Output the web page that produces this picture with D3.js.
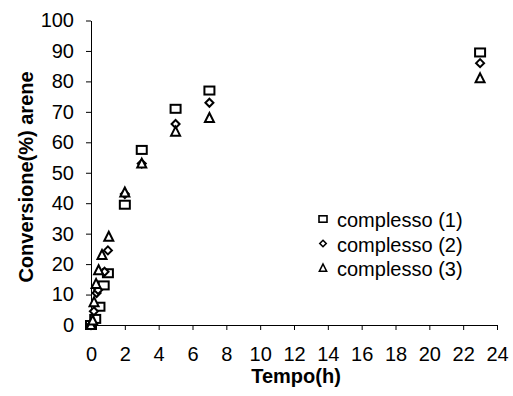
<!DOCTYPE html>
<html>
<head>
<meta charset="utf-8">
<script src="https://cdn.jsdelivr.net/npm/d3@7"></script>
<style>
  body { margin: 0; background: #fff; }
  text { font-family: "Liberation Sans", Arial, sans-serif; }
</style>
</head>
<body>
<svg id="chart" width="513" height="396"></svg>
<script>
// data
var series = ["complesso (1)", "complesso (2)", "complesso (3)"]
var shapes = ["square", "diamond", "triangle"]

var time1 = [0, 0.25, 0.5, 0.75, 1, 2, 3, 5, 7, 23]
var conv1 = [0, 2, 6, 13, 17, 39.5, 57.5, 71, 77, 89.5]

var time2 = [0, 0.17, 0.33, 0.42, 0.8, 1, 2, 3, 5, 7, 23]
var conv2 = [0, 4.5, 10.5, 11.5, 17.5, 24.5, 43, 53, 66, 73, 86]

var time3 = [0, 0.1, 0.18, 0.3, 0.45, 0.65, 1.05, 2, 3, 5, 7, 23]
var conv3 = [0, 1.5, 7.5, 13.5, 18, 23, 29, 43.5, 53, 63.5, 68, 81]

var xTicks = d3.range(0, 25, 2)
var yTicks = d3.range(0, 101, 10)

var svg = d3.select("#chart")

var dimensions = {
    left: 91,
    right: 497,
    top: 20.5,
    bottom: 325
}
var fontSize = 20

var x = d3.scaleLinear().domain([0, 24]).range([dimensions.left, dimensions.right])
var y = d3.scaleLinear().domain([0, 100]).range([dimensions.bottom, dimensions.top])

//axes
svg.append("g")
   .attr("transform", `translate(0,${dimensions.bottom})`)
   .call(d3.axisBottom(x).tickValues(xTicks).tickSize(5).tickSizeOuter(0).tickPadding(17))
svg.append("g")
   .attr("transform", `translate(${dimensions.left},0)`)
   .call(d3.axisLeft(y).tickValues(yTicks).tickSize(5).tickSizeOuter(0).tickPadding(12))

svg.selectAll(".domain").attr("stroke", "#000").attr("stroke-width", 1)
svg.selectAll(".tick line").attr("stroke", "#000")
svg.selectAll(".tick text")
   .attr("font-size", fontSize)
   .attr("font-family", "Liberation Sans, Arial, sans-serif")
   .attr("fill", "#000")

//axis titles
svg.append("text")
   .attr("x", 296)
   .attr("y", 383)
   .attr("text-anchor", "middle")
   .attr("font-size", fontSize)
   .attr("font-weight", "bold")
   .text("Tempo(h)")

svg.append("text")
   .attr("transform", "translate(33,177) rotate(-90)")
   .attr("text-anchor", "middle")
   .attr("font-size", fontSize)
   .attr("font-weight", "bold")
   .text("Conversione(%) arene")

//marker drawing
function marker(g, shape, size) {
    var s = size || 1
    if (shape === "square") {
        g.append("rect").attr("x", -5 * s).attr("y", -4 * s).attr("width", 10 * s).attr("height", 8 * s)
    } else if (shape === "diamond") {
        g.append("path").attr("d", `M0,${-4 * s}L${4 * s},0L0,${4 * s}L${-4 * s},0Z`)
    } else {
        g.append("path").attr("d", `M0,${-5 * s}L${4.5 * s},${4 * s}L${-4.5 * s},${4 * s}Z`)
    }
    g.selectAll("rect,path")
     .attr("fill", "#fff")
     .attr("stroke", "#000")
     .attr("stroke-width", 2)
}

var allData = [
    d3.zip(time1, conv1),
    d3.zip(time2, conv2),
    d3.zip(time3, conv3)
]

var plot = svg.append("g")
allData.forEach(function(points, i) {
    plot.append("g")
        .selectAll("g")
        .data(points)
        .enter()
        .append("g")
        .attr("transform", d => `translate(${x(d[0])},${y(d[1])})`)
        .each(function() { marker(d3.select(this), shapes[i]) })
})

//legend
var legend = svg.append("g")
series.forEach(function(name, i) {
    var row = legend.append("g").attr("transform", `translate(323,${219 + i * 24.5})`)
    var m = row.append("g")
    marker(m, shapes[i], 0.8)
    m.selectAll("rect,path").attr("stroke-width", 1.6)
    row.append("text")
       .attr("x", 14)
       .attr("y", 8)
       .attr("font-size", fontSize)
       .text(name)
})
</script>
</body>
</html>
